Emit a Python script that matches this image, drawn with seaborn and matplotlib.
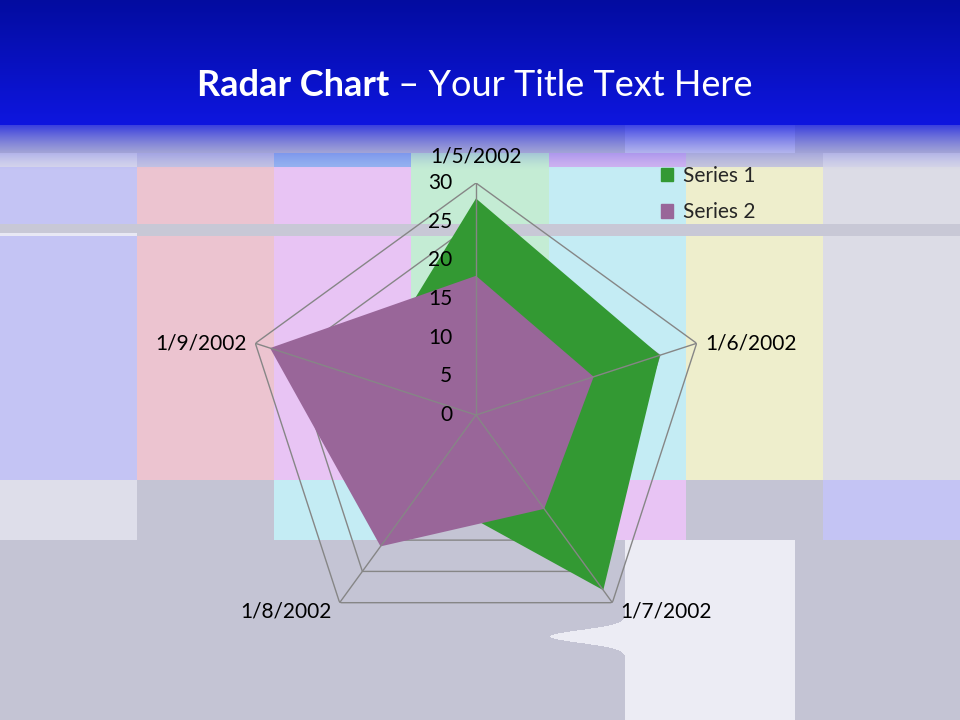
import numpy as np
import matplotlib
matplotlib.use("Agg")
import matplotlib.pyplot as plt
from matplotlib.patches import Patch
import seaborn as sns

# data
categories = ["1/5/2002", "1/6/2002", "1/7/2002", "1/8/2002", "1/9/2002"]
series_names = ["Series 1", "Series 2"]
series1 = [28, 25, 28, 12, 15]
series2 = [18, 16, 15, 21, 28]
r_ticks = [0, 5, 10, 15, 20, 25, 30]

colors = ["#339933", "#996699"]
grid_color = "#868686"

sns.set_theme(style="white")
plt.rcParams["font.family"] = ["Lato", "DejaVu Sans"]

fig = plt.figure(figsize=(9.6, 7.2), dpi=100)

# slide background (decoration only)
H, W = 720, 960
img = np.zeros((H, W, 3))
img[:] = (196, 196, 212)
cols = [0, 137, 274, 411, 549, 686, 823, 960]
main = [(196, 196, 244), (236, 196, 208), (232, 196, 244), (196, 236, 212),
        (196, 236, 244), (238, 238, 204), (220, 220, 230)]
strip = [(214, 214, 236), (196, 196, 228), (150, 180, 240), (196, 236, 212),
         (208, 180, 240), (200, 200, 220), (214, 214, 232)]
low = {0: (222, 222, 234), 2: (196, 236, 244), 4: (232, 196, 244), 6: (196, 196, 244)}
for i in range(7):
    img[153:167, cols[i]:cols[i + 1]] = strip[i]
    img[167:480, cols[i]:cols[i + 1]] = main[i]
    if i in low:
        img[480:540, cols[i]:cols[i + 1]] = low[i]
img[125:153, 625:795] = (215, 215, 240)
img[224:236, :] = (200, 200, 214)
img[233:236, 0:137] = (232, 232, 244)
# white block with a small tongue
yy, xx = np.mgrid[0:H, 0:W]
edge = 625 - 75 * np.exp(-((yy - 636) / 9.0) ** 2)
mask = (yy >= 540) & (xx >= edge) & (xx < 795)
img[mask] = (236, 236, 244)
# blue header fading into the blocks
y = np.arange(H)[:, None]
top_c = np.array([3, 12, 160])
mid_c = np.array([14, 22, 224])
head = top_c + (mid_c - top_c) * np.clip(y / 125.0, 0, 1)
alpha = np.where(y < 125, 1.0, np.clip(1 - (y - 125) / 45.0, 0, 1) ** 1.5 * 0.75)
a3 = alpha[:, :, None]
img = img * (1 - a3) + head[:, None, :] * a3

bg = fig.add_axes([0, 0, 1, 1], zorder=0)
bg.imshow(img.astype(np.uint8), aspect="auto", extent=(0, W, H, 0))
bg.axis("off")

# radar axes
ax = fig.add_axes([244 / 960, 73 / 720, 464 / 960, 464 / 720],
                  projection="polar", zorder=1)
ax.patch.set_alpha(0)
ax.set_theta_offset(np.pi / 2)
ax.set_theta_direction(-1)

theta = np.linspace(0, 2 * np.pi, len(categories), endpoint=False)
closed = np.append(theta, theta[0])

for v in r_ticks[1:]:
    ax.plot(closed, [v] * len(closed), color=grid_color, lw=1, zorder=1)

for vals, c in zip([series1, series2], colors):
    ax.fill(closed, vals + vals[:1], color=c, lw=0, zorder=2)

for t in theta:
    ax.plot([t, t], [0, r_ticks[-1]], color=grid_color, lw=1, zorder=3)

ax.set_ylim(0, r_ticks[-1])
ax.grid(False)
ax.spines["polar"].set_visible(False)
ax.set_xticks([])
ax.set_yticks([])

for v in r_ticks:
    ax.annotate(str(v), xy=(0, v), xytext=(-17, 0), textcoords="offset points",
                ha="right", va="center", fontsize=15, color="black", zorder=5)

for t, lab in zip(theta, categories):
    dx = np.sin(t)
    dy = np.cos(t)
    if abs(dx) < 0.1:
        ha, off = "center", (0, 19)
    else:
        ha = "left" if dx > 0 else "right"
        off = (6 * np.sign(dx), -6 if dy < 0 else 0)
    ax.annotate(lab, xy=(t, r_ticks[-1]), xytext=off, textcoords="offset points",
                ha=ha, va="center", fontsize=15, color="black",
                annotation_clip=False)

handles = [Patch(color=c, label=n) for c, n in zip(colors, series_names)]
fig.legend(handles=handles, loc="upper left", bbox_to_anchor=(642 / 960, 1 - 147 / 720),
           frameon=False, fontsize=15, handlelength=0.6, handleheight=0.6,
           handletextpad=0.45, labelspacing=0.8)

# title
t1 = fig.text(197 / 960, 1 - 85 / 720, "Radar Chart", color="white",
              fontsize=26, fontweight="bold", ha="left", va="center")
ax.annotate(" \u2013 Your Title Text Here", xy=(1, 0), xycoords=t1,
            ha="left", va="bottom", color="white", fontsize=26)

fig.savefig("out.png", dpi=100)
